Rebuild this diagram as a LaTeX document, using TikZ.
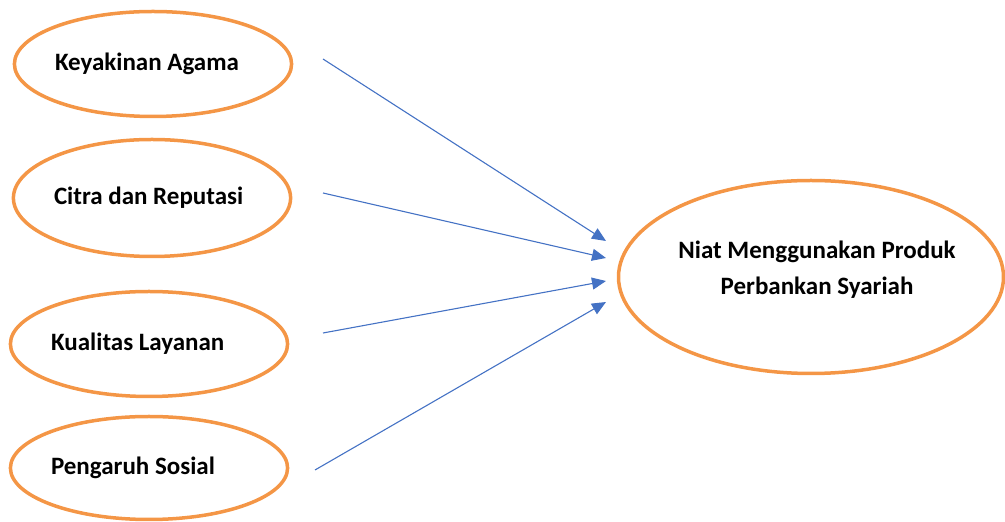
\documentclass[tikz,border=0pt]{standalone}
\usepackage{fontspec}
\setmainfont{Carlito}
\usetikzlibrary{shapes.geometric,arrows.meta}
\definecolor{ovalorange}{RGB}{244,150,70}
\definecolor{arrowblue}{RGB}{68,114,196}
\begin{document}
\begin{tikzpicture}[x=1pt,y=1pt,
  oval/.style={ellipse,draw=ovalorange,line width=3.5pt,inner sep=0pt,minimum width=271pt,minimum height=105pt,text width=196pt,align=flush left,font=\fontsize{25}{36}\selectfont\bfseries},
  link/.style={draw=arrowblue,line width=1.1pt,-{Triangle[length=14pt,width=12pt]}}]
\useasboundingbox (0,0) rectangle (1005,522);
\node[oval] (agama) at (153,458) {Keyakinan Agama};
\node[oval,minimum height=117pt] (citra) at (152,324) {Citra dan Reputasi};
\node[oval] (layanan) at (149,178) {Kualitas Layanan};
\node[oval,minimum height=103pt] (sosial) at (149,54) {Pengaruh Sosial};
\node[oval,minimum width=385pt,minimum height=193pt] (niat) at (811,245) {};
\node[font=\fontsize{25}{36}\selectfont\bfseries,align=center] (niattext) at (817,252) {Niat Menggunakan Produk\\Perbankan Syariah};
\coordinate (s1) at (323,463);
\coordinate (e1) at (606,281);
\coordinate (s2) at (323,329);
\coordinate (e2) at (606,264);
\coordinate (s3) at (323,189);
\coordinate (e3) at (606,241);
\coordinate (s4) at (315,52);
\coordinate (e4) at (606,220);
\draw[link] (s1)--(e1);
\draw[link] (s2)--(e2);
\draw[link] (s3)--(e3);
\draw[link] (s4)--(e4);
\end{tikzpicture}
\end{document}
